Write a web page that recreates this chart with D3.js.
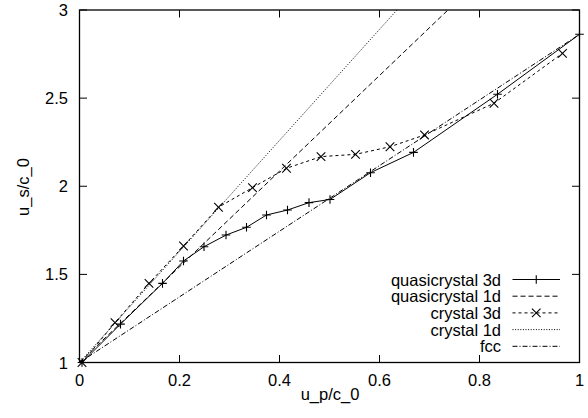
<!DOCTYPE html>
<html><head><meta charset="utf-8">
<script src="https://cdn.jsdelivr.net/npm/d3@7"></script>
<style>body{margin:0;background:#fff}svg{display:block}text{font-family:"Liberation Sans",Arial,sans-serif;font-size:16.5px;fill:#000}</style>
</head><body>
<script>
const qc3dX = [0.005, 0.082, 0.166, 0.208, 0.249, 0.293, 0.334, 0.374, 0.416, 0.459, 0.501, 0.582, 0.668, 0.836, 1.0];
const qc3dY = [1.0, 1.218, 1.449, 1.576, 1.657, 1.723, 1.767, 1.837, 1.865, 1.907, 1.925, 2.077, 2.192, 2.522, 2.862];
const cr3dX = [0.005, 0.071, 0.139, 0.208, 0.278, 0.346, 0.414, 0.483, 0.552, 0.621, 0.690, 0.829, 0.966];
const cr3dY = [1.0, 1.226, 1.449, 1.661, 1.881, 1.992, 2.102, 2.168, 2.181, 2.224, 2.291, 2.471, 2.754];
const qc1dX = [0, 1];
const qc1dY = [1, 3.714];
const cr1dX = [0, 1];
const cr1dY = [1, 4.15];
const fccX = [0, 1];
const fccY = [1, 2.862];
const xTicks = [0, 0.2, 0.4, 0.6, 0.8, 1];
const yTicks = [1, 1.5, 2, 2.5, 3];
const seriesNames = ["quasicrystal 3d", "quasicrystal 1d", "crystal 3d", "crystal 1d", "fcc"];

const W = 588, H = 418;
const L = 79.5, R = 579.5, T = 10, B = 362.5;
const svg = d3.select("body").append("svg").attr("width", W).attr("height", H);
const x = d3.scaleLinear().domain([0, 1]).range([L, R]);
const y = d3.scaleLinear().domain([1, 3]).range([B, T]);

svg.append("clipPath").attr("id", "clip").append("rect")
  .attr("x", L).attr("y", T).attr("width", R - L).attr("height", B - T);

const styles = [
  {dash: null, marker: "plus"},
  {dash: "5,3", marker: null},
  {dash: "3,3", marker: "cross"},
  {dash: "1,1.6", marker: null},
  {dash: "5,2,1,2", marker: null}
];
const data = [
  d3.zip(qc3dX, qc3dY), d3.zip(qc1dX, qc1dY), d3.zip(cr3dX, cr3dY), d3.zip(cr1dX, cr1dY), d3.zip(fccX, fccY)
];
const line = d3.line().x(d => x(d[0])).y(d => y(d[1]));
const g = svg.append("g").attr("clip-path", "url(#clip)");

function marker(sel, type, cx, cy) {
  const s = 4.3;
  if (type === "plus") {
    sel.append("path").attr("d", `M${cx - s},${cy}H${cx + s}M${cx},${cy - s}V${cy + s}`)
      .attr("stroke", "#000").attr("stroke-width", 1.1).attr("fill", "none");
  } else if (type === "cross") {
    sel.append("path").attr("d", `M${cx - s},${cy - s}L${cx + s},${cy + s}M${cx - s},${cy + s}L${cx + s},${cy - s}`)
      .attr("stroke", "#000").attr("stroke-width", 1.1).attr("fill", "none");
  }
}

data.forEach((d, i) => {
  const p = g.append("path").attr("d", line(d)).attr("fill", "none")
    .attr("stroke", "#000").attr("stroke-width", 1);
  if (styles[i].dash) p.attr("stroke-dasharray", styles[i].dash);
});
const mg = svg.append("g");
data.forEach((d, i) => {
  if (styles[i].marker) d.forEach(pt => marker(mg, styles[i].marker, x(pt[0]), y(pt[1])));
});

// ticks (mirrored, inward)
const tl = 7.5;
const ax = svg.append("g").attr("stroke", "#000").attr("stroke-width", 1);
xTicks.forEach(t => {
  ax.append("line").attr("x1", x(t)).attr("x2", x(t)).attr("y1", B).attr("y2", B - tl);
  ax.append("line").attr("x1", x(t)).attr("x2", x(t)).attr("y1", T).attr("y2", T + tl);
});
yTicks.forEach(t => {
  ax.append("line").attr("x1", L).attr("x2", L + tl).attr("y1", y(t)).attr("y2", y(t));
  ax.append("line").attr("x1", R).attr("x2", R - tl).attr("y1", y(t)).attr("y2", y(t));
});
svg.append("rect").attr("x", L).attr("y", T).attr("width", R - L).attr("height", B - T)
  .attr("fill", "none").attr("stroke", "#000").attr("stroke-width", 1.3);

const fmt = d => String(d);
xTicks.forEach(t => {
  svg.append("text").attr("x", x(t)).attr("y", 386).attr("text-anchor", "middle").text(fmt(t));
});
yTicks.forEach(t => {
  svg.append("text").attr("x", 68).attr("y", y(t) + 6).attr("text-anchor", "end").text(fmt(t));
});
svg.append("text").attr("x", 330).attr("y", 400).attr("text-anchor", "middle").text("u_p/c_0");
svg.append("text").attr("transform", "translate(29,187) rotate(-90)").attr("text-anchor", "middle").text("u_s/c_0");

// legend
const ly0 = 279.5, ldy = 16.7, lx1 = 512.5, lx2 = 560, ltx = 501;
seriesNames.forEach((n, i) => {
  const yy = ly0 + i * ldy;
  svg.append("text").attr("x", ltx).attr("y", yy + 6).attr("text-anchor", "end").text(n);
  const p = svg.append("line").attr("x1", lx1).attr("x2", lx2).attr("y1", yy).attr("y2", yy)
    .attr("stroke", "#000").attr("stroke-width", 1);
  if (styles[i].dash) p.attr("stroke-dasharray", styles[i].dash);
  if (styles[i].marker) marker(svg, styles[i].marker, (lx1 + lx2) / 2, yy);
});
</script>
</body></html>
